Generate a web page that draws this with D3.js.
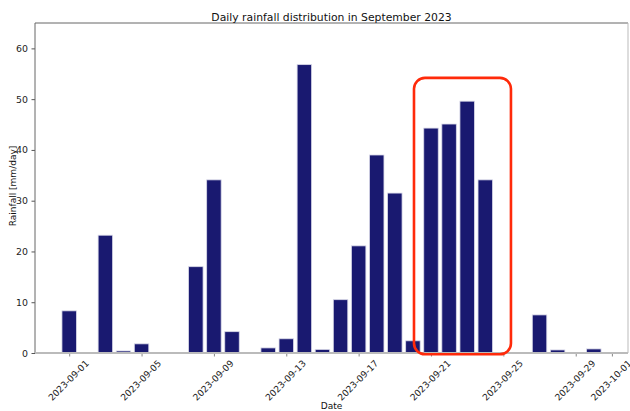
<!DOCTYPE html>
<html>
<head>
<meta charset="utf-8">
<script src="https://cdn.jsdelivr.net/npm/d3@7"></script>
<style>
  html, body { margin: 0; padding: 0; background: #fff; }
  svg { display: block; font-family: "DejaVu Sans", sans-serif; }
</style>
</head>
<body>
<svg id="chart" width="630" height="411"></svg>
<script>
// Daily rainfall, September 2023 (mm/day)
const dates = [
  "2023-09-01","2023-09-02","2023-09-03","2023-09-04","2023-09-05",
  "2023-09-06","2023-09-07","2023-09-08","2023-09-09","2023-09-10",
  "2023-09-11","2023-09-12","2023-09-13","2023-09-14","2023-09-15",
  "2023-09-16","2023-09-17","2023-09-18","2023-09-19","2023-09-20",
  "2023-09-21","2023-09-22","2023-09-23","2023-09-24","2023-09-25",
  "2023-09-26","2023-09-27","2023-09-28","2023-09-29","2023-09-30"
];
const rainfall = [
  8.3, 0, 23.2, 0.4, 1.8,
  0, 0, 17.0, 34.1, 4.2,
  0, 1.0, 2.8, 56.8, 0.7,
  10.5, 21.1, 39.0, 31.5, 2.4,
  44.3, 45.1, 49.6, 34.1, 0,
  0, 7.5, 0.6, 0, 0.8
];
const xTickLabels = [
  "2023-09-01","2023-09-05","2023-09-09","2023-09-13","2023-09-17",
  "2023-09-21","2023-09-25","2023-09-29","2023-10-01"
];
const yTicks = [0, 10, 20, 30, 40, 50, 60];
// highlighted wet spell (Sep 21–24)
const highlightDays = ["2023-09-21", "2023-09-24"];

const DAY = 864e5;
const parse = d3.utcParse("%Y-%m-%d");
const rows = dates.map((d, i) => ({ date: parse(d), value: rainfall[i] }));

const svg = d3.select("#chart");
const m = { left: 35, right: 628, top: 23, bottom: 353 };
const yTickFont = 9.4, xTickFont = 9.1, labelFont = 9;

const barW = 0.8; // in days
const first = d3.min(rows, d => d.date), last = d3.max(rows, d => d.date);
const lo = +first - barW / 2 * DAY, hi = +last + barW / 2 * DAY;
const pad = (hi - lo) * 0.05;
const x = d3.scaleUtc().domain([new Date(lo - pad), new Date(hi + pad)]).range([m.left, m.right]);
const y = d3.scaleLinear().domain([0, 65]).range([m.bottom, m.top]);

// bars
svg.append("g").selectAll("rect").data(rows).join("rect")
  .attr("x", d => x(new Date(+d.date - barW / 2 * DAY)))
  .attr("width", d => x(new Date(+d.date + barW / 2 * DAY)) - x(new Date(+d.date - barW / 2 * DAY)))
  .attr("y", d => y(d.value))
  .attr("height", d => y(0) - y(d.value))
  .attr("fill", "#191970")
  .attr("stroke", "#d8d8e8")
  .attr("stroke-width", 0.8);

// y axis
const yAxis = svg.append("g").attr("transform", `translate(${m.left},0)`)
  .call(d3.axisLeft(y).tickValues(yTicks).tickSize(3.5).tickPadding(3.5));
yAxis.select(".domain").remove();
yAxis.selectAll("line").attr("stroke", "#555");
yAxis.selectAll("text").attr("font-size", yTickFont).attr("fill", "#222").attr("font-family", "DejaVu Sans");

// x axis with labels rotated 45° and centred under their ticks
const xAxis = svg.append("g").attr("transform", `translate(0,${m.bottom})`)
  .call(d3.axisBottom(x).tickValues(xTickLabels.map(parse)).tickSize(3.5).tickFormat(d3.utcFormat("%Y-%m-%d")));
xAxis.select(".domain").remove();
xAxis.selectAll("line").attr("stroke", "#888");
xAxis.selectAll("text")
  .attr("font-size", xTickFont).attr("fill", "#222").attr("font-family", "DejaVu Sans")
  .attr("text-anchor", "middle")
  .attr("dominant-baseline", "central")
  .attr("y", 0).attr("dy", 0)
  .attr("transform", function () {
    const w = this.getComputedTextLength();
    const half = (w + xTickFont * 0.73) * Math.SQRT1_2 / 2;
    return `translate(-1,${6.5 + half}) rotate(-45)`;
  });

// frame
svg.append("line").attr("x1", m.left).attr("x2", m.right).attr("y1", m.top).attr("y2", m.top).attr("stroke", "#666");
svg.append("line").attr("x1", m.left).attr("x2", m.left).attr("y1", m.top).attr("y2", m.bottom).attr("stroke", "#666");
svg.append("line").attr("x1", m.right).attr("x2", m.right).attr("y1", m.top).attr("y2", m.bottom).attr("stroke", "#bbb");
svg.append("line").attr("x1", m.left).attr("x2", m.right).attr("y1", m.bottom).attr("y2", m.bottom).attr("stroke", "#bbb").attr("stroke-width", 2);

// highlight box around the wet spell
const hx0 = x(new Date(+parse(highlightDays[0]) - 0.94 * DAY));
const hx1 = x(new Date(+parse(highlightDays[1]) + 1.42 * DAY));
svg.append("rect")
  .attr("x", hx0).attr("y", y(54.2))
  .attr("width", hx1 - hx0).attr("height", y(-0.25) - y(54.2))
  .attr("rx", 11).attr("ry", 11)
  .attr("fill", "none").attr("stroke", "#ff2a0a").attr("stroke-width", 2.6);

// titles
svg.append("text").attr("x", (m.left + m.right) / 2).attr("y", 20.5)
  .attr("text-anchor", "middle").attr("font-size", 10.8).attr("fill", "#111")
  .text("Daily rainfall distribution in September 2023");
svg.append("text").attr("x", (m.left + m.right) / 2).attr("y", 409)
  .attr("text-anchor", "middle").attr("font-size", labelFont).attr("fill", "#111")
  .text("Date");
svg.append("text").attr("transform", `translate(15.5,${(m.top + m.bottom) / 2 - 2}) rotate(-90)`)
  .attr("text-anchor", "middle").attr("font-size", labelFont).attr("fill", "#111")
  .text("Rainfall [mm/day]");
</script>
</body>
</html>
